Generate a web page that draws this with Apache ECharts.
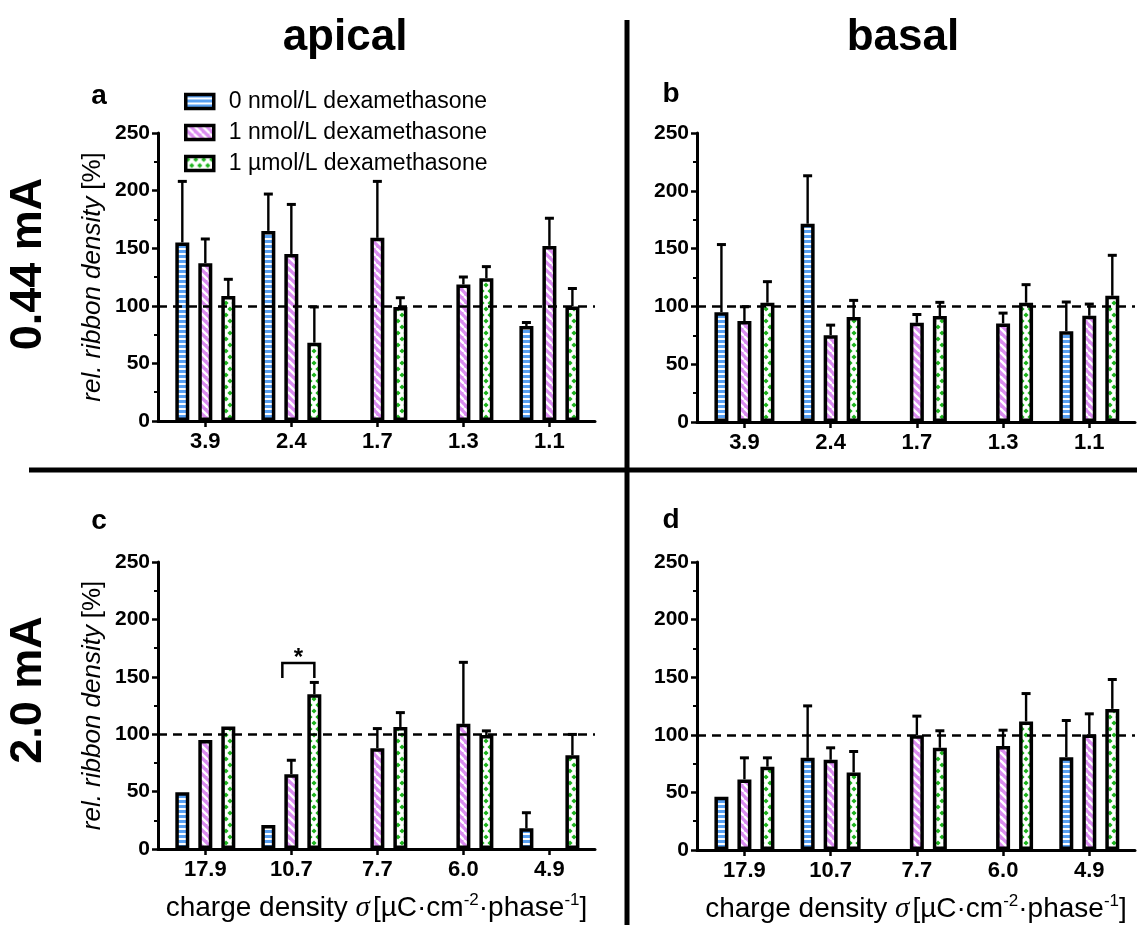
<!DOCTYPE html>
<html>
<head>
<meta charset="utf-8">
<script src="https://cdn.jsdelivr.net/npm/echarts@6/dist/echarts.min.js"></script>
<style>
html,body{margin:0;padding:0;background:#fff;}
#chart{width:1137px;height:925px;}
</style>
</head>
<body>
<div id="chart"></div>
<script>
// ---------- data ----------
const seriesNames = ['0 nmol/L dexamethasone', '1 nmol/L dexamethasone', '1 µmol/L dexamethasone'];
const catsLowCurrent = ['3.9', '2.4', '1.7', '1.3', '1.1'];
const catsHighCurrent = ['17.9', '10.7', '7.7', '6.0', '4.9'];
const yTicks = [0, 50, 100, 150, 200, 250];
const referenceLevel = 100;

// panel a: 0.44 mA apical
const a_dex0 = [155, 165, null, null, 82.5];
const a_dex0_err = [53, 32, null, null, 3];
const a_dex1 = [137, 145, 159, 118.5, 152];
const a_dex1_err = [21, 43, 49, 6.5, 24];
const a_dex2 = [108.5, 68, 99, 124, 99.5];
const a_dex2_err = [14.5, 31, 8, 10, 15.5];

// panel b: 0.44 mA basal
const b_dex0 = [95, 171.5, null, null, 78.6];
const b_dex0_err = [58.5, 41.5, null, null, 25.2];
const b_dex1 = [87.3, 75.1, 85.8, 85.3, 91.9];
const b_dex1_err = [12.4, 8.7, 7.2, 8.9, 10.1];
const b_dex2 = [103.2, 90.8, 91.6, 103.2, 109.2];
const b_dex2_err = [18.2, 14.4, 11.9, 15.6, 35];

// panel c: 2.0 mA apical
const c_dex0 = [49.5, 21, null, null, 18];
const c_dex0_err = [null, null, null, null, 13.6];
const c_dex1 = [95, 65.2, 87.8, 109, null];
const c_dex1_err = [null, 12.1, 17.1, 53.6, null];
const c_dex2 = [106.6, 134.7, 106.3, 99.3, 81.6];
const c_dex2_err = [null, 10.4, 12.5, 3.6, 18.2];

// panel d: 2.0 mA basal
const d_dex0 = [46.2, 80, null, null, 80.6];
const d_dex0_err = [null, 45.1, null, null, 31.8];
const d_dex1 = [61.3, 78.3, 99.7, 90.2, 100.3];
const d_dex1_err = [18.7, 10.4, 16.5, 13.8, 17.9];
const d_dex2 = [72.3, 67.3, 88.7, 111.6, 122.5];
const d_dex2_err = [7.7, 18.2, 14.8, 24.2, 25.5];

// significance bracket (panel c): category index, bracket level, leg end level, star level
const sigBracket = [[1, 162, 149, 166]];

// ---------- styles ----------
const FONT = 'Liberation Sans, Arial, Helvetica, sans-serif';
const BAR_W = 14;
const BAR_STEP = 23;

function patternBlue() {
  const c = document.createElement('canvas'); c.width = 8; c.height = 5;
  const g = c.getContext('2d');
  g.fillStyle = '#58A0F2'; g.fillRect(0, 0, 8, 5);
  g.fillStyle = '#ffffff'; g.fillRect(0, 3, 8, 2);
  return c;
}
function patternPurple() {
  const c = document.createElement('canvas'); c.width = 8; c.height = 8;
  const g = c.getContext('2d');
  g.fillStyle = '#DA8CF0'; g.fillRect(0, 0, 8, 8);
  g.strokeStyle = '#ffffff'; g.lineWidth = 2.4;
  for (let k = -1; k <= 1; k++) {
    g.beginPath(); g.moveTo(k * 8, 0); g.lineTo(k * 8 + 8, 8); g.stroke();
  }
  return c;
}
function patternGreen() {
  const c = document.createElement('canvas'); c.width = 8; c.height = 12;
  const g = c.getContext('2d');
  g.fillStyle = '#ffffff'; g.fillRect(0, 0, 8, 12);
  g.fillStyle = '#1DB41D';
  const dia = (x, y, r) => { g.beginPath(); g.moveTo(x, y - r); g.lineTo(x + r, y); g.lineTo(x, y + r); g.lineTo(x - r, y); g.closePath(); g.fill(); };
  dia(2, 3, 2.6); dia(6, 9, 2.6); dia(10, 3, 2.6); dia(-2, 9, 2.6);
  return c;
}
const fills = [
  { image: patternBlue(), repeat: 'repeat' },
  { image: patternPurple(), repeat: 'repeat' },
  { image: patternGreen(), repeat: 'repeat' }
];

const panels = [
  { cats: catsLowCurrent, vals: [a_dex0, a_dex1, a_dex2], errs: [a_dex0_err, a_dex1_err, a_dex2_err], grid: { left: 158, top: 133, width: 437, height: 288 }, yName: true, xName: false },
  { cats: catsLowCurrent, vals: [b_dex0, b_dex1, b_dex2], errs: [b_dex0_err, b_dex1_err, b_dex2_err], grid: { left: 697, top: 133, width: 438, height: 289 }, yName: false, xName: false },
  { cats: catsHighCurrent, vals: [c_dex0, c_dex1, c_dex2], errs: [c_dex0_err, c_dex1_err, c_dex2_err], grid: { left: 158, top: 562, width: 437, height: 287 }, yName: true, xName: true },
  { cats: catsHighCurrent, vals: [d_dex0, d_dex1, d_dex2], errs: [d_dex0_err, d_dex1_err, d_dex2_err], grid: { left: 697, top: 562, width: 438, height: 288 }, yName: false, xName: true }
];

const grids = [], xAxes = [], yAxes = [], series = [];
const catIdx = [0, 1, 2, 3, 4];

panels.forEach((p, gi) => {
  grids.push(Object.assign({ containLabel: false }, p.grid));
  xAxes.push({
    type: 'value', gridIndex: gi, min: -0.55, max: 4.53,
    splitLine: { show: false },
    axisLine: { show: true, onZero: false, lineStyle: { color: '#000', width: 3 } },
    axisTick: { show: true, customValues: catIdx, length: 6, lineStyle: { color: '#000', width: 2.5 } },
    axisLabel: {
      customValues: catIdx, formatter: (v) => p.cats[Math.round(v)],
      color: '#000', fontFamily: FONT, fontWeight: 'bold', fontSize: 22, margin: 10
    },
    name: p.xName ? '{t|charge density }{s|σ}{t|[µC·cm}{sup|-2}{t|·phase}{sup|-1}{t|]}' : '',
    nameLocation: 'middle', nameGap: 43,
    nameTextStyle: {
      rich: {
        t: { fontFamily: FONT, fontSize: 28, color: '#000', lineHeight: 32 },
        s: { fontFamily: 'Liberation Serif, DejaVu Serif, serif', fontStyle: 'italic', fontSize: 29, color: '#000', lineHeight: 32, padding: [0, 3, 0, 0] },
        sup: { fontFamily: FONT, fontSize: 17, color: '#000', lineHeight: 17, verticalAlign: 'top' }
      }
    }
  });
  yAxes.push({
    type: 'value', gridIndex: gi, min: yTicks[0], max: yTicks[yTicks.length - 1], interval: 50,
    splitLine: { show: false },
    axisLine: { show: true, onZero: false, lineStyle: { color: '#000', width: 3 } },
    axisTick: { show: true, length: 6, lineStyle: { color: '#000', width: 2.5 } },
    minorTick: { show: true, splitNumber: 2, length: 4, lineStyle: { color: '#000', width: 2 } },
    minorSplitLine: { show: false },
    axisLabel: { color: '#000', fontFamily: FONT, fontWeight: 'bold', fontSize: 21, margin: 8 },
    name: p.yName ? '{i|rel. ribbon density}  {n|[%]}' : '',
    nameLocation: 'middle', nameGap: 52,
    nameTextStyle: {
      rich: {
        i: { fontFamily: FONT, fontStyle: 'italic', fontSize: 26, color: '#000' },
        n: { fontFamily: FONT, fontSize: 26, color: '#000' }
      }
    }
  });

  // dashed reference line
  series.push({
    type: 'line', xAxisIndex: gi, yAxisIndex: gi, data: [], z: 1, silent: true,
    markLine: {
      silent: true, symbol: 'none', label: { show: false },
      lineStyle: { color: '#000', type: [9, 6], width: 2.6 },
      data: [{ yAxis: referenceLevel }]
    }
  });

  for (let k = 0; k < 3; k++) {
    const vals = p.vals[k], errs = p.errs[k];
    const barData = [];
    vals.forEach((v, i) => { if (v != null) barData.push([i, v]); });
    series.push({
      name: seriesNames[k], type: 'bar', xAxisIndex: gi, yAxisIndex: gi, z: 3,
      barWidth: BAR_W, barGap: ((BAR_STEP - BAR_W) / BAR_W * 100) + '%',
      itemStyle: { color: fills[k], borderColor: '#000', borderWidth: 3.5 },
      emphasis: { disabled: true },
      data: barData
    });
    const errData = [];
    vals.forEach((v, i) => { if (v != null && errs[i] != null) errData.push([i, v, errs[i]]); });
    series.push({
      type: 'custom', xAxisIndex: gi, yAxisIndex: gi, z: 2, silent: true,
      encode: { x: 0, y: 1 },
      data: errData,
      renderItem: (params, api) => {
        const x = api.value(0), v = api.value(1), e = api.value(2);
        const a = api.coord([x, v]), b = api.coord([x, v + e]);
        const cx = a[0] + (k - 1) * BAR_STEP;
        return {
          type: 'group', children: [
            { type: 'line', shape: { x1: cx, y1: a[1], x2: cx, y2: b[1] }, style: { stroke: '#000', lineWidth: 2.4 } },
            { type: 'line', shape: { x1: cx - 4.5, y1: b[1], x2: cx + 4.5, y2: b[1] }, style: { stroke: '#000', lineWidth: 3 } }
          ]
        };
      }
    });
  }
});

// significance bracket in panel c
series.push({
  type: 'custom', xAxisIndex: 2, yAxisIndex: 2, z: 4, silent: true,
  encode: { x: 0, y: 1 },
  data: sigBracket,
  renderItem: (params, api) => {
    const x = api.value(0);
    const top = api.coord([x, api.value(1)]);
    const leg = api.coord([x, api.value(2)]);
    const star = api.coord([x, api.value(3)]);
    const xl = top[0] - 9;
    const xr = top[0] + BAR_STEP;
    return {
      type: 'group', children: [
        { type: 'polyline', shape: { points: [[xl, leg[1]], [xl, top[1]], [xr, top[1]], [xr, leg[1]]] }, style: { stroke: '#000', lineWidth: 2.5, fill: null } },
        { type: 'text', style: { text: '*', x: (xl + xr) / 2, y: star[1], align: 'center', verticalAlign: 'middle', textAlign: 'center', textVerticalAlign: 'middle', font: 'bold 24px ' + FONT, fill: '#000' } }
      ]
    };
  }
});

function label(text, x, y, size, rot) {
  return {
    type: 'text', x: x, y: y, rotation: rot || 0, silent: true,
    style: { text: text, font: 'bold ' + size + 'px ' + FONT, fill: '#000', align: 'center', verticalAlign: 'middle', textAlign: 'center', textVerticalAlign: 'middle' }
  };
}

const option = {
  animation: false,
  backgroundColor: '#ffffff',
  grid: grids,
  xAxis: xAxes,
  yAxis: yAxes,
  legend: {
    data: seriesNames, orient: 'vertical', left: 179, top: 85,
    icon: 'rect', itemWidth: 28, itemHeight: 14, itemGap: 8,
    itemStyle: { borderColor: '#000', borderWidth: 3.5 },
    textStyle: { fontFamily: FONT, fontSize: 23, color: '#000', lineHeight: 23, padding: [0, 0, 0, 10] },
    selectedMode: false
  },
  series: series,
  graphic: [
    label('apical', 345, 38, 44, 0),
    label('basal', 903, 38, 44, 0),
    label('0.44 mA', 29, 264, 45, Math.PI / 2),
    label('2.0 mA', 29, 690, 45, Math.PI / 2),
    label('a', 99, 96, 28, 0),
    label('b', 671, 94, 28, 0),
    label('c', 99, 521, 28, 0),
    label('d', 671, 520, 28, 0),
    { type: 'line', silent: true, shape: { x1: 627, y1: 20, x2: 627, y2: 925 }, style: { stroke: '#000', lineWidth: 5 } },
    { type: 'line', silent: true, shape: { x1: 29, y1: 470, x2: 1137, y2: 470 }, style: { stroke: '#000', lineWidth: 5 } }
  ]
};

const chart = echarts.init(document.getElementById('chart'), null, { renderer: 'canvas' });
chart.setOption(option);
</script>
</body>
</html>
